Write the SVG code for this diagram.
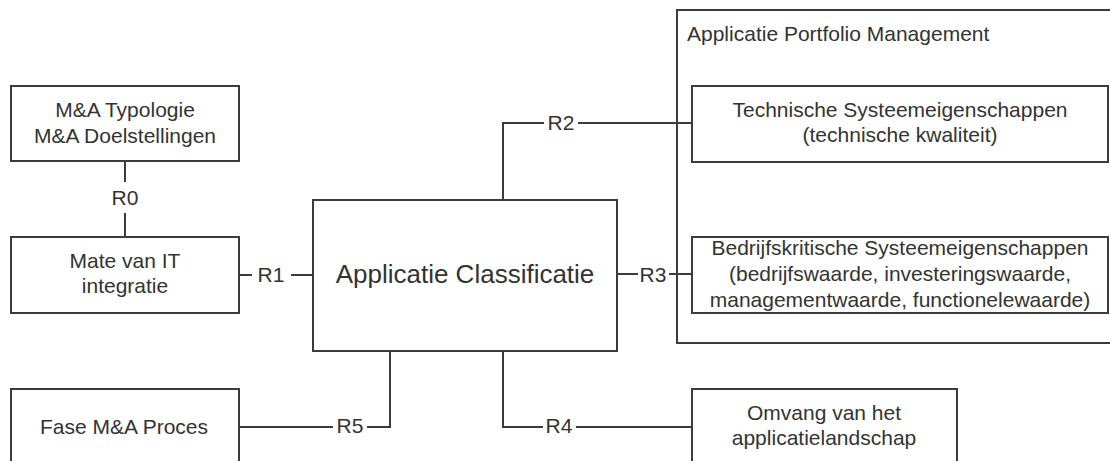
<svg xmlns="http://www.w3.org/2000/svg" width="1110" height="461" viewBox="0 0 1110 461">
  <style>
    .box { fill: #ffffff; stroke: #3c3c3c; stroke-width: 2; }
    .frame { fill: none; stroke: #3c3c3c; stroke-width: 2; }
    .wire { fill: none; stroke: #3c3c3c; stroke-width: 2; }
    text { font-family: "Liberation Sans", Arial, sans-serif; font-size: 21px; fill: #333333; }
    .c { text-anchor: middle; }
    .title { font-size: 26px; }
  </style>
  <rect width="1110" height="461" fill="#ffffff"/>

  <!-- Applicatie Portfolio Management container (open on the right) -->
  <g id="apm">
    <path class="frame" d="M1112,10 H677 V343 H1112"/>
    <text x="687" y="41">Applicatie Portfolio Management</text>
  </g>

  <!-- relations -->
  <g id="connectors">
    <!-- R0 -->
    <path class="wire" d="M125,161 V182 M125,213 V237"/>
    <text class="c" x="125" y="205">R0</text>
    <!-- R1 -->
    <path class="wire" d="M239,275 H252 M291,275 H313"/>
    <text class="c" x="271" y="282">R1</text>
    <!-- R2 -->
    <path class="wire" d="M503,200 V123 H544 M578,123 H692"/>
    <text class="c" x="561" y="130">R2</text>
    <!-- R3 -->
    <path class="wire" d="M617,274 H638 M669,274 H692"/>
    <text class="c" x="653" y="282">R3</text>
    <!-- R5 -->
    <path class="wire" d="M390,351 V427 H367 M333,427 H239"/>
    <text class="c" x="350" y="433">R5</text>
    <!-- R4 -->
    <path class="wire" d="M503,351 V427 H543 M576,427 H692"/>
    <text class="c" x="559" y="433">R4</text>
  </g>

  <g id="ma-typologie">
    <rect class="box" x="11" y="86" width="228" height="75"/>
    <text class="c" x="125" y="117">M&amp;A Typologie</text>
    <text class="c" x="125" y="143">M&amp;A Doelstellingen</text>
  </g>

  <g id="it-integratie">
    <rect class="box" x="11" y="237" width="228" height="76"/>
    <text class="c" x="125" y="268">Mate van IT</text>
    <text class="c" x="125" y="293">integratie</text>
  </g>

  <g id="fase-proces">
    <rect class="box" x="11" y="389" width="228" height="80"/>
    <text class="c" x="124" y="434">Fase M&amp;A Proces</text>
  </g>

  <g id="classificatie">
    <rect class="box" x="313" y="200" width="304" height="151"/>
    <text class="c title" x="465" y="283">Applicatie Classificatie</text>
  </g>

  <g id="technisch">
    <rect class="box" x="692" y="86" width="416" height="76"/>
    <text class="c" x="900" y="117">Technische Systeemeigenschappen</text>
    <text class="c" x="900" y="142">(technische kwaliteit)</text>
  </g>

  <g id="bedrijfskritisch">
    <rect class="box" x="692" y="237" width="416" height="76"/>
    <text class="c" x="900" y="255">Bedrijfskritische Systeemeigenschappen</text>
    <text class="c" x="900" y="281">(bedrijfswaarde, investeringswaarde,</text>
    <text class="c" x="900" y="307">managementwaarde, functionelewaarde)</text>
  </g>

  <g id="omvang">
    <rect class="box" x="692" y="389" width="265" height="80"/>
    <text class="c" x="824" y="420">Omvang van het</text>
    <text class="c" x="824" y="445">applicatielandschap</text>
  </g>
</svg>
